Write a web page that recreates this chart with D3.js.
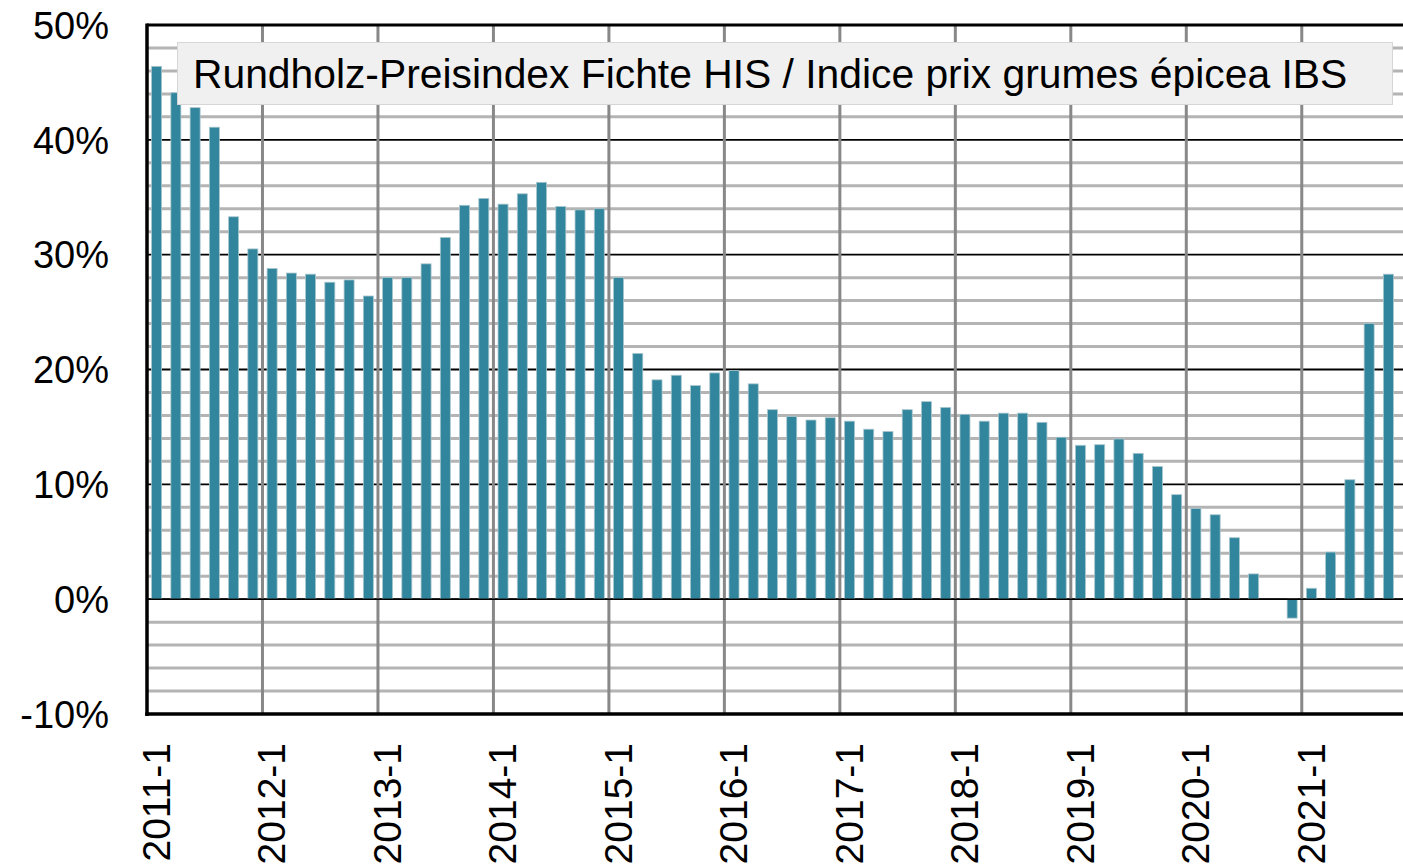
<!DOCTYPE html>
<html>
<head>
<meta charset="utf-8">
<script src="https://cdn.jsdelivr.net/npm/d3@7"></script>
<style>
  body { margin: 0; background: #fff; }
  svg { display: block; font-family: "Liberation Sans", Arial, sans-serif; }
</style>
</head>
<body>
<svg id="chart"></svg>
<script>
// Years shown on the x axis, six bi-monthly values per year (2021 has five)
const years = ["2011", "2012", "2013", "2014", "2015", "2016", "2017", "2018", "2019", "2020", "2021"];
const periodsPerYear = [6, 6, 6, 6, 6, 6, 6, 6, 6, 6, 5];

// Price index change in % per period
const values = [
    46.4, 44.1, 42.8, 41.1, 33.3, 30.5,   // 2011
    28.8, 28.4, 28.3, 27.6, 27.8, 26.4,   // 2012
    28.0, 28.0, 29.2, 31.5, 34.3, 34.9,   // 2013
    34.4, 35.3, 36.3, 34.2, 33.9, 34.0,   // 2014
    28.0, 21.4, 19.1, 19.5, 18.6, 19.7,   // 2015
    19.9, 18.75, 16.5, 15.9, 15.6, 15.8,  // 2016
    15.5, 14.8, 14.6, 16.5, 17.2, 16.7,   // 2017
    16.1, 15.5, 16.2, 16.2, 15.4, 14.1,   // 2018
    13.4, 13.45, 13.95, 12.7, 11.55, 9.1, // 2019
    7.9, 7.35, 5.35, 2.2, 0, -1.65,       // 2020
    0.95, 4.1, 10.4, 24.0, 28.3           // 2021
];

const yTicks = [-10, 0, 10, 20, 30, 40, 50];
const legendLabel = "Rundholz-Preisindex Fichte HIS / Indice prix grumes épicea IBS";

// Build category keys like "2011-1", "2011-2", ...
const categories = [];
years.forEach((y, i) => {
    for (let p = 1; p <= periodsPerYear[i]; p++) categories.push(y + "-" + p);
});

const svgWidth = 1403;
const svgHeight = 866;
const plot = { left: 147, right: 1398, top: 25, bottom: 714 };

const svg = d3.select("#chart")
    .attr("width", svgWidth)
    .attr("height", svgHeight);

const x = d3.scaleBand()
    .domain(categories)
    .range([plot.left, plot.right])
    .paddingInner(0.48)
    .paddingOuter(0.24);

const y = d3.scaleLinear()
    .domain([-10, 50])
    .range([plot.bottom, plot.top]);

// Slot boundaries (start of each year)
const step = (plot.right - plot.left) / categories.length;
const yearStart = y0 => plot.left + categories.indexOf(y0 + "-1") * step;

// Minor horizontal grid every 2%
const minor = d3.range(-8, 50, 2).filter(v => v % 10 !== 0);
svg.append("g")
    .selectAll("line")
    .data(minor)
    .enter()
    .append("line")
    .attr("x1", plot.left)
    .attr("x2", svgWidth)
    .attr("y1", d => y(d))
    .attr("y2", d => y(d))
    .attr("stroke", "#b4b4b4")
    .attr("stroke-width", 3);

// Major horizontal grid every 10%
svg.append("g")
    .selectAll("line")
    .data(yTicks.filter(v => v > -10 && v < 50))
    .enter()
    .append("line")
    .attr("x1", plot.left)
    .attr("x2", svgWidth)
    .attr("y1", d => y(d))
    .attr("y2", d => y(d))
    .attr("stroke", "#000")
    .attr("stroke-width", 1.8);

// Vertical grid at the start of each year
svg.append("g")
    .selectAll("line")
    .data(years.slice(1))
    .enter()
    .append("line")
    .attr("x1", d => yearStart(d))
    .attr("x2", d => yearStart(d))
    .attr("y1", plot.top)
    .attr("y2", plot.bottom)
    .attr("stroke", "#888")
    .attr("stroke-width", 3);

// Bars
svg.append("g")
    .selectAll("rect")
    .data(values)
    .enter()
    .append("rect")
    .attr("x", (d, i) => x(categories[i]))
    .attr("width", x.bandwidth())
    .attr("y", d => y(Math.max(0, d)))
    .attr("height", d => Math.abs(y(d) - y(0)))
    .attr("fill", "#31859c")
    .attr("stroke", d => d === 0 ? "none" : "#a9c6ce")
    .attr("stroke-width", 0.8);

// Zero line drawn over the bars
svg.append("line")
    .attr("x1", plot.left)
    .attr("x2", svgWidth)
    .attr("y1", y(0))
    .attr("y2", y(0))
    .attr("stroke", "#000")
    .attr("stroke-width", 1.5);

// Frame: top, left and bottom axis lines
svg.append("line")
    .attr("x1", plot.left).attr("x2", svgWidth)
    .attr("y1", plot.top).attr("y2", plot.top)
    .attr("stroke", "#000").attr("stroke-width", 3);
svg.append("line")
    .attr("x1", plot.left).attr("x2", plot.left)
    .attr("y1", plot.top - 1.5).attr("y2", plot.bottom + 2)
    .attr("stroke", "#000").attr("stroke-width", 3.5);
svg.append("line")
    .attr("x1", plot.left - 1.75).attr("x2", svgWidth)
    .attr("y1", plot.bottom).attr("y2", plot.bottom)
    .attr("stroke", "#000").attr("stroke-width", 3.5);

// Y axis labels
svg.append("g")
    .selectAll("text")
    .data(yTicks)
    .enter()
    .append("text")
    .attr("x", 109)
    .attr("y", d => y(d))
    .attr("dy", "0.36em")
    .attr("text-anchor", "end")
    .attr("font-size", "38px")
    .attr("fill", "#000")
    .text(d => d + "%");

// X axis labels, rotated
svg.append("g")
    .selectAll("text")
    .data(years)
    .enter()
    .append("text")
    .attr("transform", d => `translate(${yearStart(d) + 23},743) rotate(-90)`)
    .attr("text-anchor", "end")
    .attr("font-size", "39px")
    .attr("fill", "#000")
    .text(d => d + "-1");

// Legend box
const legend = svg.append("g");
legend.append("rect")
    .attr("x", 177.5)
    .attr("y", 42.5)
    .attr("width", 1215)
    .attr("height", 62)
    .attr("fill", "#f0f0f0")
    .attr("stroke", "#d6d6d6")
    .attr("stroke-width", 1);
legend.append("text")
    .attr("x", 193)
    .attr("y", 88)
    .attr("font-size", "40.8px")
    .attr("fill", "#000")
    .text(legendLabel);
</script>
</body>
</html>
